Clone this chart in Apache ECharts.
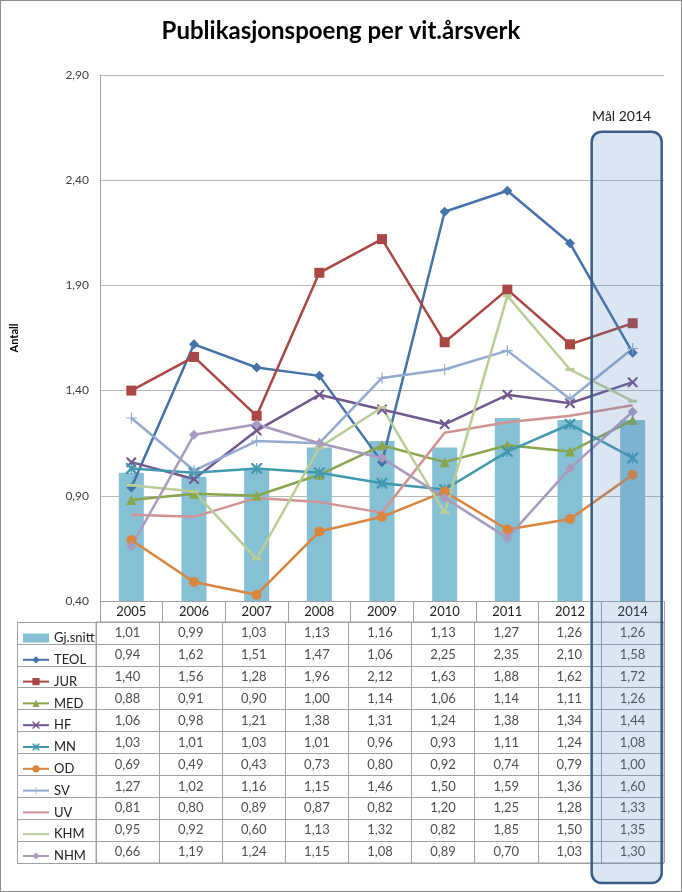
<!DOCTYPE html>
<html><head><meta charset="utf-8">
<script src="https://cdn.jsdelivr.net/npm/echarts@6/dist/echarts.min.js"></script>
<style>html,body{margin:0;padding:0;background:#fff}#c{width:680px;height:890px;border:1px solid #8c8c8c}</style>
</head><body><div id="c"></div>
<script>
const years = ['2005','2006','2007','2008','2009','2010','2011','2012','2014'];
const yTicks = [0.4, 0.9, 1.4, 1.9, 2.4, 2.9];
const gjsnitt = [1.01,0.99,1.03,1.13,1.16,1.13,1.27,1.26,1.26];
const teol = [0.94,1.62,1.51,1.47,1.06,2.25,2.35,2.10,1.58];
const jur  = [1.40,1.56,1.28,1.96,2.12,1.63,1.88,1.62,1.72];
const med  = [0.88,0.91,0.90,1.00,1.14,1.06,1.14,1.11,1.26];
const hf   = [1.06,0.98,1.21,1.38,1.31,1.24,1.38,1.34,1.44];
const mn   = [1.03,1.01,1.03,1.01,0.96,0.93,1.11,1.24,1.08];
const od   = [0.69,0.49,0.43,0.73,0.80,0.92,0.74,0.79,1.00];
const sv   = [1.27,1.02,1.16,1.15,1.46,1.50,1.59,1.36,1.60];
const uv   = [0.81,0.80,0.89,0.87,0.82,1.20,1.25,1.28,1.33];
const khm  = [0.95,0.92,0.60,1.13,1.32,0.82,1.85,1.50,1.35];
const nhm  = [0.66,1.19,1.24,1.15,1.08,0.89,0.70,1.03,1.30];

const FONT = 'Lato';
const fmt = v => v.toFixed(2).replace('.', ',');

const X_PATH = 'path://M0,0 L3,0 L10,7 L17,0 L20,0 L20,3 L13,10 L20,17 L20,20 L17,20 L10,13 L3,20 L0,20 L0,17 L7,10 L0,3 Z';
const AST_PATH = 'path://M0,0 L3,0 L9,6 L9,0 L11,0 L11,6 L17,0 L20,0 L20,3 L13,10 L20,17 L20,20 L17,20 L11,14 L11,20 L9,20 L9,14 L3,20 L0,20 L0,17 L7,10 L0,3 Z';
const PLUS_PATH = 'path://M9,0 L11,0 L11,9 L20,9 L20,11 L11,11 L11,20 L9,20 L9,11 L0,11 L0,9 L9,9 Z';

const lines = [
  {name:'TEOL', data:teol, color:'#4572A7', symbol:'diamond', size:10},
  {name:'JUR', data:jur, color:'#AA4643', symbol:'rect', size:10},
  {name:'MED', data:med, color:'#89A54E', symbol:'triangle', size:10},
  {name:'HF', data:hf, color:'#71588F', symbol:X_PATH, size:10},
  {name:'MN', data:mn, color:'#4198AF', symbol:AST_PATH, size:11},
  {name:'OD', data:od, color:'#DB843D', symbol:'circle', size:10},
  {name:'SV', data:sv, color:'#93A9CF', symbol:PLUS_PATH, size:11},
  {name:'UV', data:uv, color:'#D19392', symbol:'none', size:6, noLegendMarker:true},
  {name:'KHM', data:khm, color:'#B9CD96', symbol:'rect', size:[9,3], noLegendMarker:true},
  {name:'NHM', data:nhm, color:'#A99BBD', symbol:'diamond', size:10}
];
const rowNames = ['Gj.snitt'].concat(lines.map(l => l.name));
const rowData = [gjsnitt].concat(lines.map(l => l.data));

const tableCells = [];
rowData.forEach((arr, r) => arr.forEach((v, i) => tableCells.push([i, r, v])));

const legendData = [{name:'Gj.snitt', icon:'rect'}].concat(lines.map(l =>
  l.noLegendMarker ? {name:l.name, itemStyle:{opacity:0}} : {name:l.name}));

const chart = echarts.init(document.getElementById('c'));
const GRAY = '#a0a0a0';
const series = [
  {name:'Gj.snitt', type:'bar', data:gjsnitt, barWidth:25, itemStyle:{color:'#86c0d5'}, z:1}
].concat(lines.map(l => ({
  name:l.name, type:'line', data:l.data, symbol:l.symbol, symbolSize:l.size,
  showAllSymbol:true, lineStyle:{color:l.color, width:2.5}, itemStyle:{color:l.color},
  z:3
}))).concat([{
  name:'tabell', type:'scatter', xAxisIndex:1, yAxisIndex:1, data:tableCells,
  symbol:'rect', symbolSize:1, itemStyle:{color:'rgba(0,0,0,0)'}, silent:true,
  label:{show:true, position:'inside', formatter:p => fmt(p.value[2]), fontFamily:FONT, fontSize:13, color:'#222'}
}]);

chart.setOption({
  animation:false,
  backgroundColor:'#fff',
  textStyle:{fontFamily:FONT},
  title:{text:'Publikasjonspoeng per vit.årsverk', left:'center', top:13,
    textStyle:{fontFamily:FONT, fontWeight:'bold', fontSize:24, color:'#000'}},
  legend:{
    data:legendData, orient:'vertical', left:16, top:625, itemWidth:26, itemHeight:9, itemGap:7.8,
    textStyle:{fontFamily:FONT, fontSize:13, color:'#222', lineHeight:14}, selectedMode:false
  },
  grid:[
    {left:95, right:17, top:74, bottom:290},
    {left:95, right:17, top:621, bottom:28, show:true, borderColor:GRAY, borderWidth:1}
  ],
  xAxis:[
    {type:'category', data:years, gridIndex:0,
      axisLine:{lineStyle:{color:GRAY}}, axisTick:{show:true, length:21, lineStyle:{color:GRAY}},
      axisLabel:{fontFamily:FONT, fontSize:13, color:'#222', margin:4}},
    {type:'category', data:years, gridIndex:1, axisLine:{show:false}, axisTick:{show:false},
      axisLabel:{show:false}, splitLine:{show:true, lineStyle:{color:GRAY}}}
  ],
  yAxis:[
    {type:'value', gridIndex:0, min:yTicks[0], max:yTicks[yTicks.length-1], interval:0.5,
      name:'Antall', nameLocation:'middle', nameGap:80, nameRotate:90,
      nameTextStyle:{fontFamily:FONT, fontWeight:'bold', fontSize:11, color:'#000'},
      axisLine:{show:true, lineStyle:{color:GRAY}},
      axisLabel:{fontFamily:FONT, fontSize:12, color:'#404040', formatter:v => fmt(v), margin:11},
      splitLine:{lineStyle:{color:'#b8b8b8'}}},
    {type:'category', gridIndex:1, data:rowNames, inverse:true,
      axisLine:{show:false}, axisLabel:{show:false},
      axisTick:{show:true, length:79, lineStyle:{color:GRAY}},
      splitLine:{show:true, lineStyle:{color:GRAY}}},
    {type:'category', gridIndex:1, data:rowNames, inverse:true, offset:79, position:'left',
      axisLine:{show:true, lineStyle:{color:GRAY}}, axisLabel:{show:false}, axisTick:{show:false}}
  ],
  series:series
});

const cx = chart.convertToPixel({xAxisIndex:0}, '2014');
const topY = chart.convertToPixel({yAxisIndex:0}, 2.63);
chart.setOption({
  graphic:[
    {type:'rect', z:100, shape:{x:cx-41, y:topY, width:70, height:882-topY, r:10},
      style:{fill:'rgba(79,129,189,0.2)', stroke:'#385D8A', lineWidth:2.5}},
    {type:'text', z:100, style:{text:'Mål 2014', x:cx-11, y:topY-15, align:'center', verticalAlign:'middle',
      font:'14px ' + FONT, fill:'#222'}}
  ]
});
</script></body></html>
